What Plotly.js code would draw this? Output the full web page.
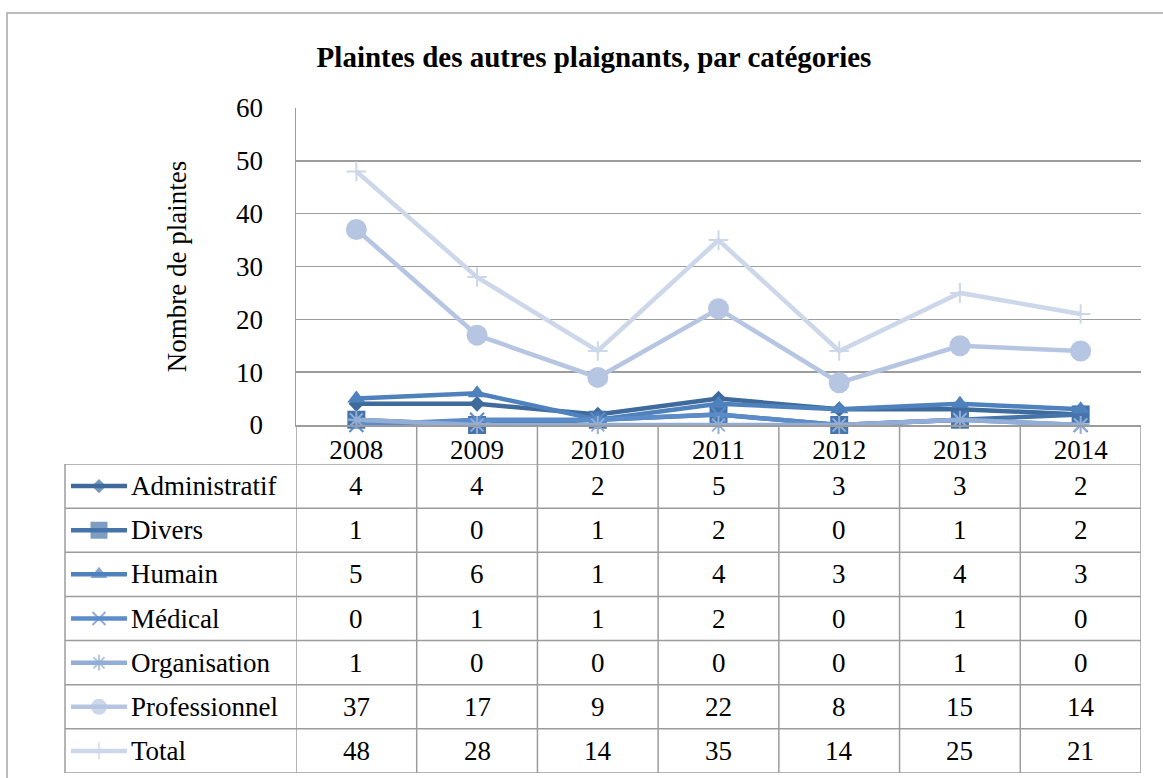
<!DOCTYPE html>
<html>
<head>
<meta charset="utf-8">
<script src="https://cdn.plot.ly/plotly-3.0.1.min.js"></script>
<style>html,body{margin:0;padding:0;background:#fff;}#chart{width:1163px;height:778px;}</style>
</head>
<body>
<div id="chart"></div>
<script>
// ---- data ----
const years = ["2008", "2009", "2010", "2011", "2012", "2013", "2014"];
const seriesNames = ["Administratif", "Divers", "Humain", "Médical", "Organisation", "Professionnel", "Total"];
const administratif = [4, 4, 2, 5, 3, 3, 2];
const divers = [1, 0, 1, 2, 0, 1, 2];
const humain = [5, 6, 1, 4, 3, 4, 3];
const medical = [0, 1, 1, 2, 0, 1, 0];
const organisation = [1, 0, 0, 0, 0, 1, 0];
const professionnel = [37, 17, 9, 22, 8, 15, 14];
const total = [48, 28, 14, 35, 14, 25, 21];
const chartTitle = "Plaintes des autres plaignants, par catégories";
const yTitle = "Nombre de plaintes";

const seriesValues = [administratif, divers, humain, medical, organisation, professionnel, total];

// ---- styles ----
const colors = ["#3E6B9C", "#4674AA", "#4F81BD", "#5B8CC9", "#92AED6", "#B6C6E2", "#CDD7EA"];
const symbols = ["diamond", "square", "triangle-up", "x-thin-open", "asterisk-open", "circle", "cross-thin-open"];
const sizes = [12, 18, 16, 14, 15, 21, 14];
const keySizes = [11, 17, 15, 13, 13, 16, 12];
const openSym = [false, false, false, true, true, false, true];

const W = 1163, H = 778;
const px = v => v / W;
const py = v => 1 - v / H;

// geometry (pixels)
const plotL = 296, plotR = 1141, plotT = 108, plotB = 425;
const tableL = 65, headB = 464, tableB = 773;
const keyL = 71, keyR = 127, labelX = 129;
const font = "Liberation Serif, Times New Roman, serif";
const fs = 27;

const traces = [];
seriesNames.forEach((name, i) => {
  traces.push({
    type: "scatter", mode: "lines+markers", name: name,
    x: years, y: seriesValues[i], xaxis: "x", yaxis: "y",
    line: {color: colors[i], width: 4.5},
    marker: {symbol: symbols[i], size: sizes[i], color: colors[i],
             line: {color: colors[i], width: openSym[i] ? 2 : 0}},
    cliponaxis: false, showlegend: false, hoverinfo: "x+y+name"
  });
});
// legend keys inside the data table
seriesNames.forEach((name, i) => {
  traces.push({
    type: "scatter", mode: "lines+markers", name: name + " (clé)",
    x: [0, 0.5, 1], y: [i, i, i], xaxis: "x2", yaxis: "y2",
    line: {color: colors[i], width: 4.5},
    marker: {symbol: symbols[i], size: [0, keySizes[i], 0], color: colors[i],
             line: {color: colors[i], width: openSym[i] ? 2 : 0}},
    cliponaxis: false, showlegend: false, hoverinfo: "skip"
  });
});

const gridCol = "#9C9C9C";
const shapes = [];
// outer chart border
shapes.push({type: "rect", xref: "paper", yref: "paper", x0: px(7), x1: px(1175), y0: py(790), y1: py(13),
  line: {color: "#A6A6A6", width: 1.5}, fillcolor: "rgba(0,0,0,0)", layer: "below"});
// horizontal table lines (row boundaries)
for (let r = 0; r <= seriesNames.length; r++) {
  shapes.push({type: "line", xref: "paper", yref: "y2", x0: px(tableL), x1: px(plotR), y0: r - 0.5, y1: r - 0.5,
    line: {color: gridCol, width: 1.5}});
}
// vertical lines between year columns
for (let c = 0; c <= years.length; c++) {
  shapes.push({type: "line", xref: "x", yref: "paper", x0: c - 0.5, x1: c - 0.5, y0: py(tableB), y1: py(plotB),
    line: {color: gridCol, width: 1.5}});
}
// left edge of label column
shapes.push({type: "line", xref: "paper", yref: "y2", x0: px(tableL), x1: px(tableL), y0: -0.5, y1: seriesNames.length - 0.5,
  line: {color: gridCol, width: 1.5}});

const annotations = [];
const colW = (px(plotR) - px(plotL)) / years.length;
seriesNames.forEach((name, i) => {
  annotations.push({xref: "paper", yref: "y2", x: px(labelX), y: i, text: name, showarrow: false,
    xanchor: "left", yanchor: "middle", font: {family: font, size: fs, color: "#000"}});
  years.forEach((yr, j) => {
    annotations.push({xref: "paper", yref: "y2", x: px(plotL) + (j + 0.5) * colW, y: i,
      text: String(seriesValues[i][j]), showarrow: false,
      xanchor: "center", yanchor: "middle", font: {family: font, size: fs, color: "#000"}});
  });
});

const layout = {
  width: W, height: H,
  margin: {l: 0, r: 0, t: 0, b: 0},
  paper_bgcolor: "#fff", plot_bgcolor: "rgba(0,0,0,0)",
  showlegend: false,
  title: {text: "<b>" + chartTitle + "</b>", x: px(594), xanchor: "center", xref: "paper",
          y: py(57), yanchor: "middle", yref: "paper",
          font: {family: font, size: 29, color: "#000"}},
  xaxis: {domain: [px(plotL), px(plotR)], type: "category", range: [-0.5, years.length - 0.5],
          showgrid: false, zeroline: false, showline: true, linecolor: gridCol, linewidth: 1.5,
          ticks: "", tickfont: {family: font, size: fs, color: "#000"}, ticklabelstandoff: 0,
          fixedrange: true},
  yaxis: {domain: [py(plotB), py(plotT)], range: [0, 60], dtick: 10, tick0: 0,
          showgrid: true, gridcolor: gridCol, gridwidth: 1.5, zeroline: false,
          showline: true, linecolor: gridCol, linewidth: 1.5, ticks: "",
          tickfont: {family: font, size: fs, color: "#000"}, ticklabelstandoff: 26,
          title: {text: yTitle, font: {family: font, size: fs, color: "#000"}, standoff: 41},
          fixedrange: true},
  xaxis2: {domain: [px(keyL), px(keyR)], range: [0, 1], anchor: "y2", visible: false, fixedrange: true},
  yaxis2: {domain: [py(tableB), py(headB)], range: [seriesNames.length - 0.5, -0.5], anchor: "x2",
           visible: false, fixedrange: true},
  shapes: shapes,
  annotations: annotations
};

Plotly.newPlot("chart", traces, layout, {displayModeBar: false, staticPlot: true});
</script>
</body>
</html>
